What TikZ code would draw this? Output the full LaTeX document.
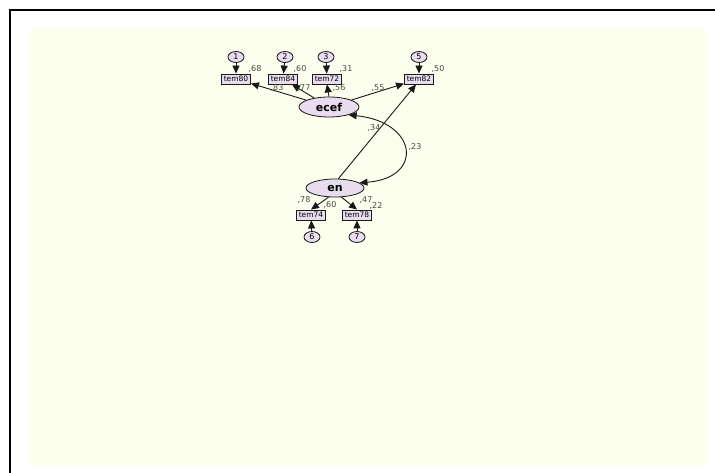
\documentclass[tikz,border=0pt]{standalone}
\usepackage{fontspec}
\setmainfont{DejaVu Sans}
\usetikzlibrary{arrows.meta,shapes.geometric}
\definecolor{panel}{RGB}{253,255,238}
\definecolor{varfill}{RGB}{232,220,238}
\definecolor{ink}{RGB}{25,25,25}
\begin{document}
\begin{tikzpicture}[x=1pt,y=-1pt,
  obs/.style={draw=ink, fill=varfill, minimum width=29pt, minimum height=10pt, inner sep=0pt,
    line width=0.9pt, font=\fontsize{7.5}{8}\selectfont},
  lat/.style={ellipse, draw=ink, fill=varfill, minimum width=60pt, minimum height=20pt, inner sep=0pt,
    line width=0.8pt, font=\fontsize{11}{12}\selectfont\bfseries},
  err/.style={ellipse, draw=ink, fill=varfill, minimum width=16pt, minimum height=11pt, inner sep=0pt,
    line width=0.8pt, font=\fontsize{8}{9}\selectfont},
  reg/.style={draw=ink, line width=0.9pt, -{Triangle[length=8pt,width=7pt]}},
  cov/.style={draw=ink, line width=0.9pt, {Triangle[length=8pt,width=7pt]}-{Triangle[length=8pt,width=7pt]}},
  est/.style={inner sep=0pt, text=ink!80, font=\fontsize{8}{9}\selectfont}]
\useasboundingbox (0,0) rectangle (715,473);
\fill[white] (0,0) rectangle (715,473);
\fill[panel] (30,28) rectangle (706,466);
\draw[line width=2pt] (10,473) -- (10,10) -- (715,10);

% latent variables
\node[lat] (ecef) at (329,107) {ecef};
\node[lat, minimum width=58pt, minimum height=18pt] (en) at (335,188) {en};

% indicators of ecef
\node[obs] (b80) at (236,79) {tem80};
\node[obs] (b84) at (283,79) {tem84};
\node[obs] (b72) at (327,79) {tem72};
\node[obs] (b82) at (419,79) {tem82};

% indicators of en
\node[obs] (b74) at (311,215) {tem74};
\node[obs] (b78) at (357,215) {tem78};

% error terms
\node[err] (e1) at (236,57) {1};
\node[err] (e2) at (285,57) {2};
\node[err] (e3) at (326,57) {3};
\node[err] (e5) at (419,57) {5};
\node[err] (e6) at (312,237) {6};
\node[err] (e7) at (357,237) {7};

% error paths
\draw[reg] (e1) -- (b80);
\draw[reg] (e2) -- (b84);
\draw[reg] (e3) -- (b72);
\draw[reg] (e5) -- (b82);
\draw[reg] (e6) -- (b74);
\draw[reg] (e7) -- (b78);

% loadings
\draw[reg] (ecef) -- (b80);
\draw[reg] (ecef) -- (b84);
\draw[reg] (ecef.90) -- (b72.south);
\draw[reg] (ecef) -- (b82);
\draw[reg] (en.235) -- (b74.north);
\draw[reg] (en.305) -- (b78.north);
\draw[reg] (en.70) -- ([xshift=-3pt]b82.south);

% covariance
\draw[cov] (ecef.-22) .. controls (418,122) and (424,178) .. (en.12);

% estimates
\node[est] (r1) at (255,69) {,68};
\node[est] (r2) at (300,69) {,60};
\node[est] (r3) at (346,69) {,31};
\node[est] (r5) at (438,69) {,50};
\node[est] (l80) at (277,88) {,83};
\node[est] (l84) at (304,88) {,77};
\node[est] (l72) at (339,88) {,56};
\node[est] (l82) at (378,88) {,55};
\node[est] (l34) at (374,128) {,34};
\node[est] (c23) at (415,147) {,23};
\node[est] (l74) at (304,200) {,78};
\node[est] (r74) at (330,205) {,60};
\node[est] (l78) at (366,200) {,47};
\node[est] (r78) at (376,206) {,22};
\end{tikzpicture}
\end{document}
